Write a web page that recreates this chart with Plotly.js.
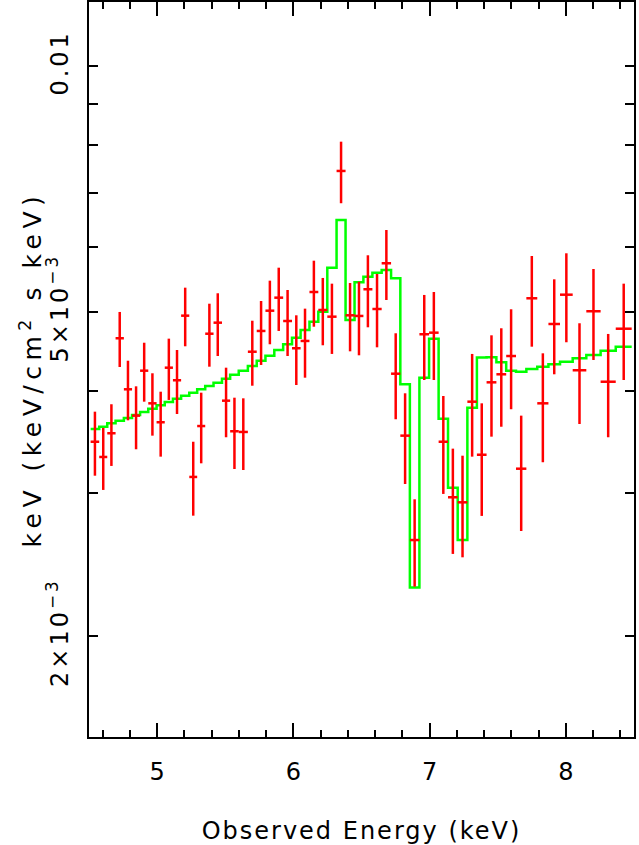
<!DOCTYPE html>
<html>
<head>
<meta charset="utf-8">
<script src="https://cdn.plot.ly/plotly-3.0.1.min.js"></script>
<style>
  body { margin: 0; background: #fff; }
  #plot { width: 639px; height: 845px; }
  .xtitle { letter-spacing: 2px; }
  .ytick text { letter-spacing: 3px; }
  .annotation-text { letter-spacing: 5.5px; }
</style>
</head>
<body>
<div id="plot"></div>
<script>
// energy bin edges (keV)
var binEdges = [4.512, 4.575, 4.634, 4.695, 4.756, 4.816, 4.875, 4.935, 4.996, 5.056,
  5.116, 5.176, 5.236, 5.294, 5.353, 5.414, 5.476, 5.536, 5.599, 5.666,
  5.731, 5.795, 5.860, 5.925, 5.990, 6.053, 6.118, 6.183, 6.249, 6.317,
  6.383, 6.449, 6.514, 6.580, 6.648, 6.717, 6.785, 6.855, 6.925, 6.996,
  7.066, 7.135, 7.206, 7.277, 7.347, 7.418, 7.490, 7.562, 7.634, 7.710,
  7.790, 7.872, 7.957, 8.050, 8.150, 8.255, 8.366, 8.483];

// data, units of 1e-3 keV (keV/cm^2 s keV)
var flux = [3.464, 3.318, 3.548, 4.640, 4.017, 3.729, 4.234, 3.861, 3.660, 4.270,
  4.121, 4.946, 3.136, 3.621, 4.700, 4.849, 3.890, 3.568, 3.561, 4.467,
  4.737, 5.016, 5.204, 4.872, 4.511, 4.605, 5.288, 5.026, 4.932, 7.444,
  4.951, 4.942, 5.329, 5.040, 5.735, 4.198, 3.524, 2.624, 4.693, 4.714,
  3.464, 2.961, 2.919, 3.879, 3.339, 4.097, 4.191, 4.413, 3.210, 5.195,
  3.861, 4.831, 5.248, 4.239, 5.008, 4.104, 4.767];
var fluxHi = [3.771, 3.601, 3.851, 4.998, 4.355, 4.051, 4.582, 4.203, 3.990, 4.635,
  4.489, 5.353, 3.464, 3.979, 5.116, 5.269, 4.270, 3.923, 3.916, 4.876,
  5.155, 5.460, 5.664, 5.318, 4.951, 5.045, 5.777, 5.502, 5.414, 8.086,
  5.424, 5.444, 5.866, 5.564, 6.300, 4.706, 3.972, 2.944, 5.244, 5.288,
  3.942, 3.397, 3.330, 4.439, 3.861, 4.679, 4.773, 5.036, 3.729, 5.854,
  4.447, 5.481, 5.899, 4.841, 5.643, 4.697, 5.414];
var fluxLo = [3.147, 3.023, 3.235, 4.278, 3.680, 3.391, 3.879, 3.524, 3.321, 3.898,
  3.746, 4.536, 2.811, 3.259, 4.282, 4.413, 3.508, 3.207, 3.198, 4.058,
  4.303, 4.562, 4.737, 4.413, 4.066, 4.151, 4.794, 4.549, 4.439, 6.795,
  4.472, 4.422, 4.786, 4.523, 5.170, 3.691, 3.074, 2.300, 4.124, 4.124,
  2.989, 2.523, 2.499, 3.321, 2.809, 3.514, 3.614, 3.797, 2.692, 4.531,
  3.269, 4.191, 4.588, 3.642, 4.364, 3.508, 4.124];

// folded model, same bins
var model = [3.591, 3.614, 3.649, 3.676, 3.704, 3.736, 3.768, 3.803, 3.840, 3.876,
  3.912, 3.945, 3.979, 4.017, 4.055, 4.093, 4.139, 4.186, 4.234, 4.291,
  4.355, 4.417, 4.489, 4.562, 4.648, 4.750, 4.863, 5.002, 5.664, 6.481,
  4.886, 5.435, 5.522, 5.585, 5.627, 5.497, 4.074, 2.295, 4.151, 4.633,
  3.696, 3.042, 2.624, 3.814, 4.395, 4.399, 4.337, 4.234, 4.222, 4.254,
  4.282, 4.311, 4.343, 4.385, 4.426, 4.480, 4.531];

var yTickVals = [2, 5, 10];
var yTickText = ['2×10<sup>−3</sup>', '5×10<sup>−3</sup>', '0.01'];
var yMinorVals = [3, 4, 6, 7, 8, 9];

var SCALE = 1e-3;
var centers = [], halfW = [];
for (var i = 0; i < flux.length; i++) {
  centers.push((binEdges[i] + binEdges[i + 1]) / 2);
  halfW.push((binEdges[i + 1] - binEdges[i]) / 2);
}

var dataTrace = {
  x: centers,
  y: flux.map(function (v) { return v * SCALE; }),
  type: 'scatter',
  mode: 'markers',
  marker: { size: 1, color: 'rgba(0,0,0,0)' },
  error_x: { type: 'data', array: halfW, color: '#ff0000', thickness: 2.5, width: 0 },
  error_y: {
    type: 'data', symmetric: false,
    array: fluxHi.map(function (v, i) { return (v - flux[i]) * SCALE; }),
    arrayminus: fluxLo.map(function (v, i) { return (flux[i] - v) * SCALE; }),
    color: '#ff0000', thickness: 2.5, width: 0
  },
  hoverinfo: 'skip'
};

// model as a histogram step
var modelTrace = {
  x: binEdges,
  y: model.concat([model[model.length - 1]]).map(function (v) { return v * SCALE; }),
  type: 'scatter',
  mode: 'lines',
  line: { shape: 'hv', color: '#00ff00', width: 2.5 },
  hoverinfo: 'skip'
};

var font = { family: 'DejaVu Sans', size: 24, color: '#000' };

var layout = {
  width: 639,
  height: 845,
  margin: { l: 89, r: 5, t: 2, b: 108 },
  paper_bgcolor: '#fff',
  plot_bgcolor: '#fff',
  showlegend: false,
  font: font,
  xaxis: {
    range: [4.5, 8.5],
    tickvals: [5, 6, 7, 8],
    ticks: 'inside',
    ticklen: 14,
    tickwidth: 2,
    tickcolor: '#000',
    minor: { dtick: 0.2, tick0: 4.6, ticks: 'inside', ticklen: 7, tickwidth: 2, tickcolor: '#000' },
    showline: true,
    linecolor: '#000',
    linewidth: 2,
    mirror: 'ticks',
    showgrid: false,
    zeroline: false,
    ticklabelstandoff: 12,
    tickfont: font,
    title: { text: 'Observed Energy (keV)', font: font, standoff: 40 }
  },
  yaxis: {
    type: 'log',
    range: [-2.8227, -1.9209],
    tickvals: yTickVals.map(function (v) { return v * SCALE; }),
    ticktext: yTickText,
    tickangle: -90,
    ticks: 'inside',
    ticklen: 9,
    tickwidth: 2,
    tickcolor: '#000',
    minor: {
      tickvals: yMinorVals.map(function (v) { return v * SCALE; }),
      ticks: 'inside', ticklen: 9, tickwidth: 2, tickcolor: '#000'
    },
    showline: true,
    linecolor: '#000',
    linewidth: 2,
    mirror: 'ticks',
    showgrid: false,
    zeroline: false,
    ticklabelstandoff: 9,
    tickfont: font
  },
  annotations: [{
    text: 'keV (keV/cm<sup>2</sup> s keV)',
    xref: 'paper', yref: 'paper',
    x: 0, y: 0.5,
    xanchor: 'center', yanchor: 'middle',
    xshift: -58,
    textangle: -90,
    showarrow: false,
    font: { family: 'DejaVu Sans', size: 25, color: '#000' }
  }]
};

Plotly.newPlot('plot', [modelTrace, dataTrace], layout, { staticPlot: true });
</script>
</body>
</html>
